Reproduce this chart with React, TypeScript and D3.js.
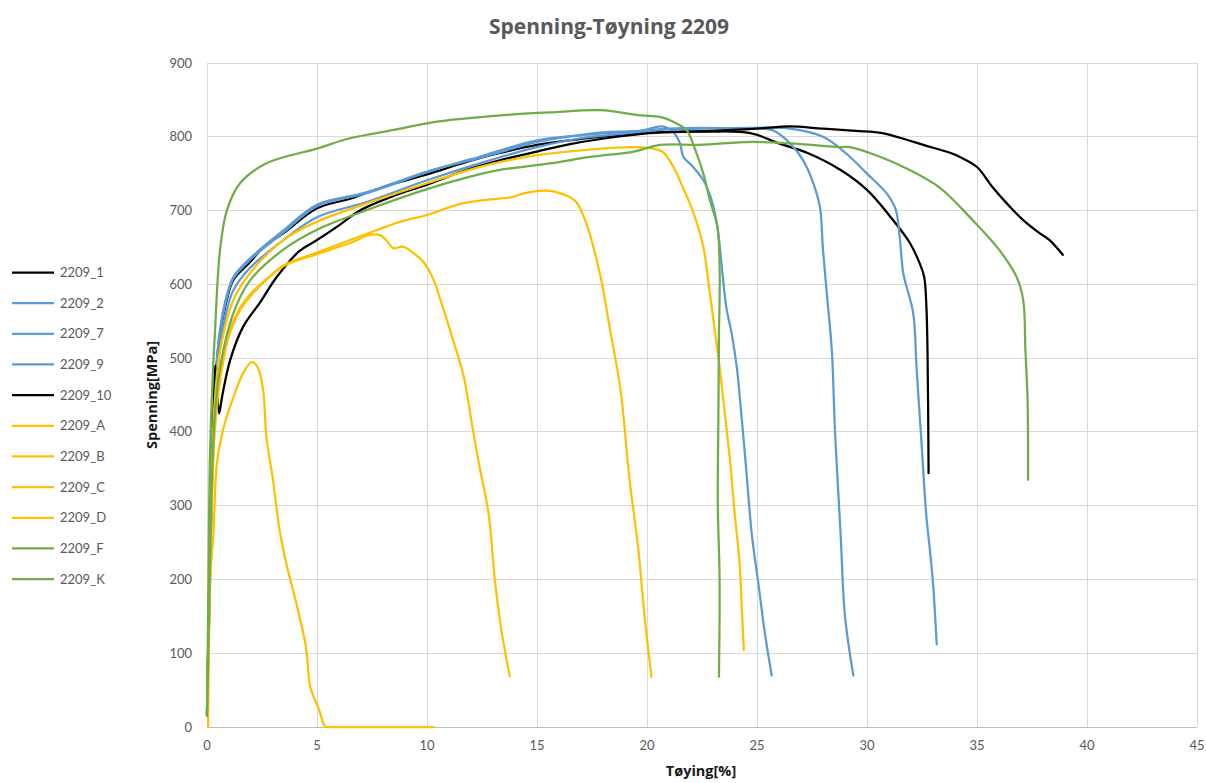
import React from "react";
import * as d3 from "d3";

// Tensile test curves for 2209 duplex steel: [strain %, stress MPa]
const s2209_1: [number, number][] = [
  [0, 18], [0.1, 180], [0.2, 330], [0.35, 450], [0.5, 510], [0.6, 534], [0.9, 579], [1.2, 606],
  [1.95, 630], [2.7, 654], [3.47, 669], [5.0, 703], [6.5, 716], [8.0, 732], [10.0, 749], [11.8, 766],
  [13.3, 778], [15.0, 789], [17.0, 797], [19.7, 805], [22.7, 807], [24.7, 805], [26.0, 791],
  [27.3, 778], [28.8, 755], [30.0, 728], [31.05, 692], [31.95, 656], [32.4, 628], [32.6, 610],
  [32.7, 570], [32.75, 510], [32.8, 344],
];
const s2209_2: [number, number][] = [
  [0, 18], [0.1, 190], [0.2, 340], [0.35, 460], [0.6, 540], [0.9, 585], [1.2, 610], [1.95, 635],
  [3.47, 673], [5.0, 708], [7.3, 725], [10, 753], [12.5, 772], [15, 793], [16.4, 800], [18, 806],
  [19.7, 808], [20.7, 814], [21.2, 806], [21.5, 791], [21.65, 773], [22.1, 759], [22.56, 741],
  [22.94, 714], [23.2, 678], [23.4, 624], [23.6, 570], [23.85, 533], [24.08, 488], [24.23, 443],
  [24.5, 353], [24.76, 262], [25.06, 195], [25.36, 127], [25.67, 70],
];
const s2209_7: [number, number][] = [
  [0, 18], [0.1, 185], [0.2, 335], [0.35, 455], [0.6, 535], [0.9, 582], [1.2, 608], [1.95, 633],
  [3.47, 670], [5.0, 706], [7.3, 724], [10, 752], [12.5, 774], [15, 795], [17, 802], [19.7, 808],
  [21, 811], [22.5, 812], [24.23, 811], [25.7, 809], [26.5, 791], [27.1, 768], [27.56, 737],
  [27.86, 705], [28.0, 647], [28.2, 579], [28.4, 511], [28.55, 398], [28.8, 262], [29.0, 150],
  [29.38, 70],
];
const s2209_9: [number, number][] = [
  [0, 18], [0.1, 170], [0.2, 320], [0.35, 440], [0.6, 515], [0.9, 565], [1.2, 592], [1.95, 622],
  [3.47, 660], [5.0, 691], [7.3, 712], [10, 741], [12.5, 765], [15, 786], [17, 798], [19.7, 806],
  [21, 810], [22.5, 811], [24.5, 812], [26.5, 811], [28.0, 800], [29.07, 777], [30.0, 750],
  [30.9, 723], [31.3, 702], [31.5, 660], [31.65, 615], [32.1, 561], [32.25, 488], [32.5, 375],
  [32.7, 285], [32.86, 240], [33.0, 195], [33.17, 112],
];
const s2209_10: [number, number][] = [
  [0, 15], [0.1, 150], [0.2, 300], [0.3, 420], [0.38, 490], [0.45, 465], [0.55, 425], [0.7, 450],
  [1.05, 497], [1.65, 543], [2.4, 575], [3.17, 610], [4.2, 645], [5.0, 660], [6.0, 680],
  [6.95, 700], [8.5, 720], [10, 735], [11.5, 752], [13.3, 768], [15, 780], [16.5, 790],
  [17.9, 797], [20.1, 805], [21.6, 807], [23, 808], [25, 811], [26.5, 814], [28.0, 811],
  [29.5, 808], [30.7, 805], [31.8, 796], [32.56, 789], [33.8, 778], [34.2, 773], [35.0, 759],
  [35.7, 732], [36.5, 705], [37.1, 687], [37.86, 669], [38.3, 660], [38.9, 640],
];
const s2209_A: [number, number][] = [
  [0.05, 0], [0.15, 200], [0.3, 267], [0.45, 358], [0.73, 403], [1.2, 447], [1.65, 480],
  [2.04, 495], [2.3, 488], [2.55, 457], [2.7, 393], [3.0, 335], [3.3, 267], [3.6, 222],
  [4.1, 163], [4.5, 108], [4.7, 54], [5.1, 23], [5.3, 4], [5.4, 0], [5.6, 0], [7.5, 0], [10.3, 0],
];
const s2209_B: [number, number][] = [
  [0, 15], [0.1, 150], [0.2, 280], [0.35, 400], [0.6, 470], [1.0, 530], [1.5, 565], [2.0, 585],
  [2.7, 606], [3.5, 625], [5.0, 641], [6.5, 656], [7.4, 667], [7.9, 666], [8.2, 658], [8.47, 649],
  [8.9, 651], [9.4, 642], [9.85, 630], [10.3, 606], [10.6, 580], [11.2, 523], [11.67, 475],
  [12.05, 409], [12.4, 351], [12.8, 289], [13.1, 195], [13.4, 128], [13.76, 69],
];
const s2209_C: [number, number][] = [
  [0, 15], [0.1, 160], [0.2, 290], [0.35, 410], [0.6, 478], [1.0, 535], [1.5, 568], [2.0, 588],
  [2.7, 607], [3.5, 626], [5.0, 643], [6.5, 660], [7.4, 670], [8.8, 685], [10, 694], [11.5, 709],
  [12.56, 714], [13.8, 718], [14.5, 724], [15.45, 727], [16.36, 720], [16.8, 711], [17.27, 680],
  [17.9, 609], [18.3, 542], [18.8, 456], [19.2, 337], [19.6, 242], [19.9, 147], [20.2, 68],
];
const s2209_D: [number, number][] = [
  [0, 15], [0.1, 180], [0.2, 320], [0.35, 440], [0.6, 511], [1.2, 579], [1.95, 615], [3.47, 660],
  [5.0, 685], [7.3, 710], [10, 737], [12.5, 760], [15, 775], [17.5, 783], [19.38, 786],
  [20.29, 784], [20.74, 779], [21.2, 759], [21.65, 730], [22.1, 698], [22.56, 651], [22.8, 601],
  [23.0, 556], [23.3, 488], [23.47, 443], [23.8, 353], [24.0, 285], [24.2, 226], [24.3, 168],
  [24.4, 104],
];
const s2209_F: [number, number][] = [
  [0, 19], [0.05, 150], [0.1, 300], [0.14, 375], [0.25, 470], [0.36, 534], [0.59, 646], [0.9, 700],
  [1.5, 737], [2.7, 764], [5.0, 784], [6.5, 798], [8.8, 811], [10.3, 820], [11.8, 825],
  [14.8, 832], [15.6, 833], [17.9, 836], [19.7, 829], [20.6, 827], [21.35, 818], [21.8, 809],
  [22.2, 782], [22.56, 750], [22.86, 714], [23.2, 678], [23.3, 624], [23.3, 579], [23.27, 534],
  [23.25, 440], [23.22, 300], [23.3, 200], [23.27, 68],
];
const s2209_K: [number, number][] = [
  [0, 15], [0.1, 170], [0.2, 310], [0.35, 420], [0.6, 488], [1.2, 561], [1.95, 605], [3.47, 647],
  [5.0, 674], [7.3, 701], [10, 729], [12.5, 750], [13.3, 755], [15.6, 764], [17.5, 773],
  [19.4, 780], [20.6, 789], [22.4, 789], [24.7, 793], [26.5, 791], [28.8, 786], [29.2, 786],
  [30.5, 774], [31.8, 757], [33.3, 731], [34.8, 687], [36.0, 647], [36.8, 610], [37.1, 579],
  [37.2, 511], [37.3, 443], [37.32, 335],
];

const seriesNames = [
  "2209_1", "2209_2", "2209_7", "2209_9", "2209_10",
  "2209_A", "2209_B", "2209_C", "2209_D", "2209_F", "2209_K",
];
const seriesData = [
  s2209_1, s2209_2, s2209_7, s2209_9, s2209_10,
  s2209_A, s2209_B, s2209_C, s2209_D, s2209_F, s2209_K,
];
const seriesColors = [
  "#000000", "#5B9BD5", "#5B9BD5", "#5B9BD5", "#000000",
  "#FFC000", "#FFC000", "#FFC000", "#FFC000", "#70AD47", "#70AD47",
];

const xTicks = [0, 5, 10, 15, 20, 25, 30, 35, 40, 45];
const yTicks = [0, 100, 200, 300, 400, 500, 600, 700, 800, 900];

const W = 1206;
const H = 783;
const plot = { left: 207, right: 1197, top: 63, bottom: 727 };
const FONT = "Lato, 'Open Sans', 'Liberation Sans', sans-serif";
const TITLE_FONT = "'Open Sans', Lato, 'Liberation Sans', sans-serif";
const TEXT = "#595959";

export default function App() {
  const x = d3.scaleLinear().domain([0, 45]).range([plot.left, plot.right]);
  const y = d3.scaleLinear().domain([0, 900]).range([plot.bottom, plot.top]);
  const line = d3
    .line<[number, number]>()
    .x((d) => x(d[0]))
    .y((d) => y(d[1]))
    .curve(d3.curveCatmullRom.alpha(0.5));

  return (
    <>
      <style>{`body{margin:0;}`}</style>
      <svg width={W} height={H} style={{ display: "block", background: "#fff" }} fontFamily={FONT}>
        {/* gridlines */}
        {yTicks.map((t) => (
          <line key={"gy" + t} x1={plot.left} x2={plot.right} y1={y(t)} y2={y(t)}
            stroke="#d9d9d9" strokeWidth={1} shapeRendering="crispEdges" />
        ))}
        {xTicks.map((t) => (
          <line key={"gx" + t} x1={x(t)} x2={x(t)} y1={plot.top} y2={plot.bottom}
            stroke="#d9d9d9" strokeWidth={1} shapeRendering="crispEdges" />
        ))}
        <line x1={plot.left} x2={plot.right} y1={plot.bottom} y2={plot.bottom}
          stroke="#bfbfbf" strokeWidth={1} shapeRendering="crispEdges" />

        {/* tick labels */}
        {yTicks.map((t) => (
          <text key={"ly" + t} x={192} y={y(t)} dy="0.35em" textAnchor="end"
            fontSize={13} fill={TEXT}>{t}</text>
        ))}
        {xTicks.map((t) => (
          <text key={"lx" + t} x={x(t)} y={750} textAnchor="middle"
            fontSize={13} fill={TEXT}>{t}</text>
        ))}

        {/* curves */}
        {seriesData.map((d, i) => (
          <path key={seriesNames[i]} d={line(d) || ""} fill="none"
            stroke={seriesColors[i]} strokeWidth={2.25}
            strokeLinejoin="round" strokeLinecap="round" />
        ))}

        {/* titles */}
        <text x={609} y={34} textAnchor="middle" fontFamily={TITLE_FONT} fontSize={21}
          fontWeight="bold" fill={TEXT}>
          Spenning-Tøyning 2209
        </text>
        <text x={701} y={776} textAnchor="middle" fontFamily={TITLE_FONT} fontSize={14.5}
          fontWeight="bold" fill="#1a1a1a">
          Tøying[%]
        </text>
        <text transform={`translate(157,${(plot.top + plot.bottom) / 2}) rotate(-90)`}
          textAnchor="middle" fontFamily={TITLE_FONT} fontSize={14.5} fontWeight="bold"
          fill="#1a1a1a">
          Spenning[MPa]
        </text>

        {/* legend */}
        {seriesNames.map((n, i) => {
          const ly = 272.5 + i * 30.66;
          return (
            <g key={"lg" + n}>
              <line x1={12} x2={54} y1={ly} y2={ly} stroke={seriesColors[i]} strokeWidth={2.25} />
              <text x={60} y={ly} dy="0.35em" fontSize={13} fill={TEXT}>{n}</text>
            </g>
          );
        })}
      </svg>
    </>
  );
}
